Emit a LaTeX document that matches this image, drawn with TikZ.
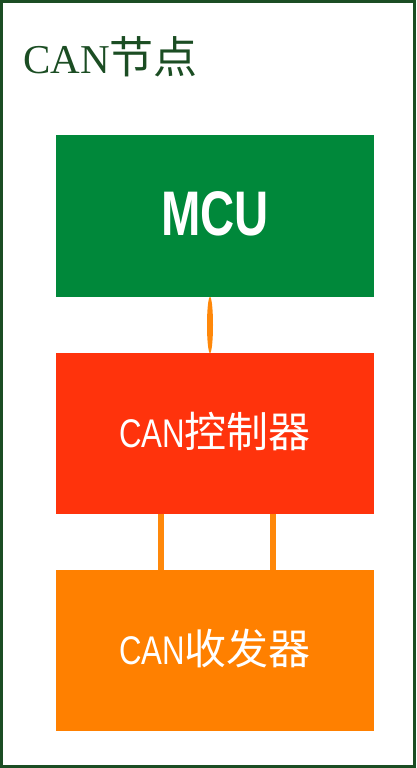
\documentclass[tikz,border=0pt]{standalone}
\usepackage{fontspec}
\setmainfont{Liberation Serif}
\newfontfamily\cjk{Noto Sans CJK SC}
\newfontfamily\narrow[FakeStretch=0.78]{Liberation Sans}
\newfontfamily\narrowbold[FakeStretch=0.75]{Liberation Sans Bold}
\usetikzlibrary{calc}

\definecolor{framegreen}{HTML}{1B4D23}
\definecolor{mcugreen}{HTML}{00883A}
\definecolor{ctrlred}{HTML}{FF330C}
\definecolor{trxorange}{HTML}{FF8000}
\definecolor{linkorange}{HTML}{FF880A}

\tikzset{
  block/.style={rectangle, inner sep=0pt, minimum width=318, minimum height=161,
                text=white, text depth=0pt},
  link/.style={linkorange, line width=6}
}

\begin{document}
\begin{tikzpicture}[x=1pt, y=-1pt]
          \useasboundingbox (0,0) rectangle (416,768);
          \draw[framegreen, line width=3] (1.5,1.5) rectangle (414.5,766.5);

          \node[anchor=base west, inner sep=0pt, text=framegreen,
                font=\fontsize{41}{41}\selectfont] (title) at (23,74)
                {CAN{\cjk\fontsize{44}{44}\selectfont 节点}};

          \node[block, fill=mcugreen, minimum height=162, text height=45, text depth=7,
                font=\narrowbold\fontsize{63}{63}\selectfont] (mcu) at (215,216) {MCU};
          \node[block, fill=ctrlred, text height=27,
                font=\fontsize{40}{40}\selectfont] (ctrl) at (215,433.5)
                {{\narrow CAN}{\cjk\fontsize{42}{42}\selectfont 控制器}};
          \node[block, fill=trxorange, text height=27,
                font=\fontsize{40}{40}\selectfont] (trx) at (215,650.5)
                {{\narrow CAN}{\cjk\fontsize{42}{42}\selectfont 收发器}};

          % bus between MCU and controller
          \coordinate (busA) at ([xshift=-5]mcu.south);
          \coordinate (busB) at ([xshift=-5]ctrl.north);
          \fill[linkorange] ($(busA)!0.5!(busB)$) ellipse (3 and 28);

          % two lines to the transceiver
          \draw[link] ([xshift=-54]ctrl.south) -- ([xshift=-54]trx.north);
          \draw[link] ([xshift=58]ctrl.south) -- ([xshift=58]trx.north);
        \end{tikzpicture}
\end{document}
